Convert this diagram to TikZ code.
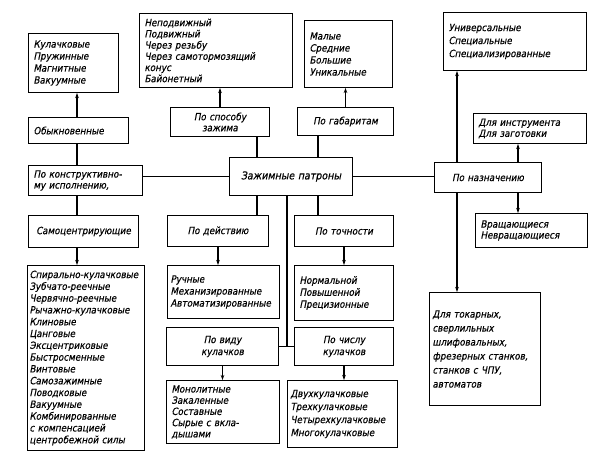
\documentclass[tikz,border=0pt]{standalone}
\usepackage{fontspec}
\setmainfont{DejaVu Sans}[FakeSlant=0.2,FakeStretch=0.88,FakeBold=0.4]
\usetikzlibrary{arrows.meta}

\begin{document}
\begin{tikzpicture}[x=1pt,y=-1pt,
  box/.style={draw,line width=1pt,inner xsep=5pt,inner ysep=3pt,align=left,anchor=north west,
    font=\fontsize{10}{12}\selectfont},
  cell/.style 2 args={box,text width=#1,minimum height=#2},
  mid/.style 2 args={box,align=center,text width=#1,minimum height=#2},
  link/.style={line width=1.2pt},
  arr/.style={link,-{Stealth[length=5pt,width=3.5pt]}}]
\useasboundingbox (0,0) rectangle (611,457);
% upper row
\node [cell={80}{59}]  (kul)    at (28,33)  {Кулачковые\\Пружинные\\Магнитные\\Вакуумные};
\node [cell={90}{26}]  (obyk)   at (28,117) {Обыкновенные};
\node [cell={143}{74},font=\fontsize{10}{11.2}\selectfont] (nepod) at (139,13) {Неподвижный\\Подвижный\\Через резьбу\\Через самотормозящий\\конус\\Байонетный};
\node [mid={89}{29},font=\fontsize{10}{11}\selectfont] (sposob) at (170,107) {По способу\\зажима};
\node [cell={78}{67}]  (malye)  at (304,20) {Малые\\Средние\\Большие\\Уникальные};
\node [mid={86}{28}]   (gabar)  at (297,107) {По габаритам};
\node [cell={133}{58},font=\fontsize{10}{13}\selectfont] (univ) at (443,12) {Универсальные\\Специальные\\Специализированные};
\node [cell={103}{30},font=\fontsize{10}{11}\selectfont] (instr) at (473,113) {Для инструмента\\Для заготовки};
% middle row
\node [cell={104}{30},font=\fontsize{10}{11}\selectfont] (konstr) at (28,165) {По конструктивно-\\му исполнению,};
\node [mid={113}{38},font=\fontsize{10.8}{12}\selectfont] (patr) at (229,157) {Зажимные патроны};
\node [mid={97}{30}]   (naznach) at (434,162) {По назначению};
\node [mid={100}{32}]  (samoc)  at (28,215) {Самоцентрирующие};
\node [mid={91}{31}]   (deistv) at (167,215) {По действию};
\node [mid={89}{31}]   (tochn)  at (294,215) {По точности};
\node [cell={102}{34},font=\fontsize{10}{11}\selectfont] (vrash) at (475,213) {Вращающиеся\\Невращающиеся};
% lower rows
\node [cell={113}{185},inner xsep=2pt,font=\fontsize{10}{11.8}\selectfont] (spiral) at (27,265)
  {Спирально-кулачковые\\Зубчато-реечные\\Червячно-реечные\\Рычажно-кулачковые\\Клиновые\\Цанговые\\Эксцентриковые\\Быстросменные\\Винтовые\\Самозажимные\\Поводковые\\Вакуумные\\Комбинированные\\с компенсацией\\центробежной силы};
\node [cell={106}{53},inner xsep=3pt] (ruchn) at (167,265) {Ручные\\Механизированные\\Автоматизированные};
\node [cell={89}{55}]  (norm)   at (294,265) {Нормальной\\Повышенной\\Прецизионные};
\node [cell={105}{113},inner xsep=3pt,font=\fontsize{10}{14}\selectfont] (tokar) at (429,292) {Для токарных,\\сверлильных\\шлифовальных,\\фрезерных станков,\\станков с ЧПУ,\\автоматов};
\node [mid={102}{38}]  (vidu)   at (166,327) {По виду\\кулачков};
\node [mid={89}{38}]   (chislu) at (294,327) {По числу\\кулачков};
\node [cell={103}{63},font=\fontsize{10}{11.2}\selectfont] (monol) at (166,380) {Монолитные\\Закаленные\\Составные\\Сырые с вкла-\\дышами};
\node [cell={104}{67},inner xsep=3pt,font=\fontsize{10}{13}\selectfont] (dvuh) at (287,380) {Двухкулачковые\\Трехкулачковые\\Четырехкулачковые\\Многокулачковые};
% trunk positions
\coordinate (c1) at (257,0);
\coordinate (c2) at (318,0);
\coordinate (c3) at (287,0);
\coordinate (c4) at (457,0);
\coordinate (c5) at (518,0);
\coordinate (c6) at (77,0);
% connectors
\draw [arr]  (obyk.north -| c6) -- (kul.south -| c6);
\draw [link] (obyk.south -| c6) -- (konstr.north -| c6);
\draw [link] (konstr.south -| c6) -- (samoc.north -| c6);
\draw [arr]  (samoc.south -| c6) -- (spiral.north -| c6);
\draw [link] (konstr.east |- patr) -- (patr.west);
\draw [link] (patr.east) -- (patr.east -| naznach.west);
\draw [arr]  (sposob.north) -- (sposob.north |- nepod.south);
\draw [link] (sposob.south -| c1) -- (patr.north -| c1);
\draw [arr]  (gabar.north) -- (gabar.north |- malye.south);
\draw [link] (gabar.south -| c2) -- (patr.north -| c2);
\draw [link] (patr.south -| c1) -- (deistv.north -| c1);
\draw [link] (patr.south -| c2) -- (tochn.north -| c2);
\draw [arr]  (deistv.south) -- (deistv.south |- ruchn.north);
\draw [arr]  (tochn.south) -- (tochn.south |- norm.north);
\draw [link] (patr.south -| c3) -- (vidu.east -| c3);
\draw [link] (vidu.east) -- (chislu.west);
\draw [arr]  (vidu.south) -- (vidu.south |- monol.north);
\draw [arr]  (chislu.south) -- (chislu.south |- dvuh.north);
\draw [arr]  (naznach.north -| c4) -- (univ.south -| c4);
\draw [arr]  (naznach.north -| c5) -- (instr.south -| c5);
\draw [arr]  (naznach.south -| c5) -- (vrash.north -| c5);
\draw [arr]  (naznach.south -| c4) -- (tokar.north -| c4);
\end{tikzpicture}
\end{document}
